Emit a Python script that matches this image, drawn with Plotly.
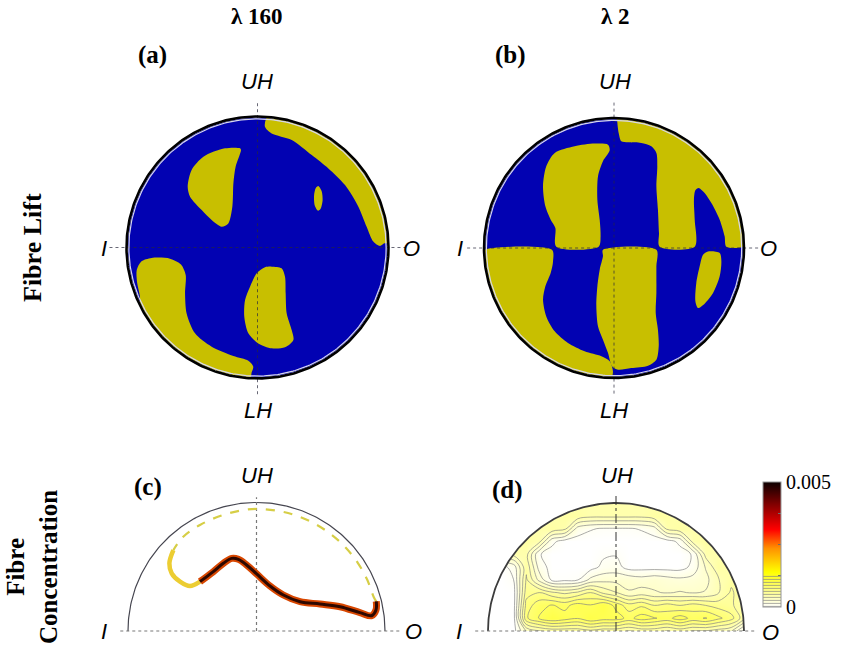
import numpy as np
import plotly.graph_objects as go

W, H = 846, 652

# ---------------- data (unit-circle coordinates: u = I->O, v = LH->UH) ----------------
# (a) lambda 160, fibre lift: yellow regions on blue
a_y1_u = [-0.133, -0.248, -0.413, -0.503, -0.533, -0.515, -0.426, -0.350, -0.274, -0.223, -0.192, -0.184, -0.167, -0.126]
a_y1_v = [0.757, 0.757, 0.693, 0.592, 0.464, 0.388, 0.286, 0.210, 0.159, 0.184, 0.312, 0.490, 0.617, 0.744]
a_y2_u = [0.057, 0.108, 0.261, 0.414, 0.541, 0.668, 0.770, 0.833, 0.884, 0.935, 0.968]
a_y2_v = [0.922, 0.871, 0.821, 0.706, 0.604, 0.477, 0.312, 0.159, 0.045, 0.011, 0.032]
a_y2_arc = [2, 86]
a_y3_u = [0.464, 0.490, 0.497, 0.482, 0.462, 0.437, 0.432, 0.445]
a_y3_v = [0.470, 0.430, 0.360, 0.295, 0.280, 0.320, 0.400, 0.455]
a_y4_u = [-0.897, -0.920, -0.922, -0.889, -0.808, -0.668, -0.584, -0.548, -0.553, -0.541, -0.477, -0.350, -0.184, -0.070, -0.032, -0.045]
a_y4_v = [-0.375, -0.261, -0.172, -0.108, -0.080, -0.085, -0.129, -0.210, -0.350, -0.503, -0.655, -0.757, -0.828, -0.864, -0.910, -0.955]
a_y4_arc = [-93, -155]
a_y5_u = [0.108, 0.184, 0.210, 0.215, 0.223, 0.261, 0.274, 0.210, 0.108, 0.006, -0.070, -0.101, -0.095, -0.057, -0.006, 0.057]
a_y5_v = [-0.146, -0.159, -0.223, -0.350, -0.503, -0.630, -0.706, -0.762, -0.770, -0.732, -0.655, -0.528, -0.401, -0.299, -0.197, -0.151]

# (b) lambda 2, fibre lift
b_y1_u = [-0.456, -0.303, -0.149, -0.046, -0.033, -0.085, -0.123, -0.128, -0.110, -0.103, -0.118, -0.444, -0.451, -0.487, -0.528, -0.546, -0.521]
b_y1_v = [0.731, 0.782, 0.803, 0.795, 0.751, 0.667, 0.551, 0.372, 0.218, 0.090, 0.010, 0.010, 0.154, 0.218, 0.321, 0.474, 0.628]
b_y2_u = [0.864, 0.851, 0.813, 0.749, 0.697, 0.651, 0.626, 0.615, 0.621, 0.621, 0.351, 0.346, 0.338, 0.326, 0.333, 0.326, 0.287, 0.210, 0.108, 0.056, 0.036, 0.026]
b_y2_v = [0.010, 0.090, 0.218, 0.346, 0.423, 0.462, 0.444, 0.372, 0.218, 0.010, 0.010, 0.115, 0.295, 0.474, 0.628, 0.731, 0.782, 0.808, 0.813, 0.821, 0.885, 0.962]
b_y2_arc = [88.5, 0.6]
b_y3_u = [-0.008, -0.033, -0.097, -0.226, -0.354, -0.456, -0.521, -0.546, -0.528, -0.487, -0.469, -0.477]
b_y3_v = [-0.949, -0.872, -0.833, -0.795, -0.731, -0.641, -0.526, -0.397, -0.295, -0.192, -0.103, -0.014]
b_y3_arc = [180.8, 269]
b_y4_u = [-0.085, 0.326, 0.326, 0.326, 0.321, 0.338, 0.344, 0.326, 0.262, 0.133, 0.031, -0.015, -0.046, -0.085, -0.123, -0.136, -0.128, -0.110, -0.085]
b_y4_v = [-0.014, -0.014, -0.141, -0.346, -0.500, -0.628, -0.756, -0.859, -0.905, -0.923, -0.936, -0.910, -0.808, -0.705, -0.603, -0.449, -0.295, -0.167, -0.064]
b_y5_u = [0.723, 0.813, 0.826, 0.813, 0.762, 0.697, 0.646, 0.626, 0.633, 0.659, 0.685]
b_y5_v = [-0.026, -0.038, -0.103, -0.218, -0.346, -0.428, -0.462, -0.410, -0.269, -0.141, -0.051]

# (c) lambda 160, fibre concentration: closed fibre path
c_core_u = [-0.440, -0.336, -0.258, -0.193, -0.141, -0.077, 0.001, 0.105, 0.209, 0.339, 0.494, 0.650, 0.805, 0.896, 0.930, 0.932]
c_core_v = [0.384, 0.462, 0.527, 0.565, 0.558, 0.514, 0.444, 0.350, 0.280, 0.228, 0.210, 0.189, 0.143, 0.119, 0.163, 0.230]
c_hook_u = [-0.647, -0.678, -0.660, -0.595, -0.518, -0.440]
c_hook_v = [0.630, 0.527, 0.449, 0.384, 0.350, 0.384]
c_dash_u = [0.932, 0.913, 0.861, 0.788, 0.695, 0.585, 0.446, 0.294, 0.163, 0.0, -0.128, -0.284, -0.440, -0.570, -0.647]
c_dash_v = [0.230, 0.262, 0.401, 0.531, 0.648, 0.749, 0.839, 0.904, 0.935, 0.950, 0.937, 0.895, 0.825, 0.734, 0.630]

# (d) lambda 2, fibre concentration field (units of 1e-5), rows v = 0.0..1.0, cols u = -1.0..1.0
d_u = [round(-1.0 + 0.1 * i, 1) for i in range(21)]
d_v = [round(0.1 * j, 1) for j in range(11)]
d_conc_e5 = [
    [0, 0, 0, 30, 40, 45, 45, 45, 50, 45, 45, 40, 45, 45, 40, 45, 40, 40, 35, 30, 0],
    [0, 0, 0, 75, 90, 100, 95, 90, 100, 95, 95, 85, 95, 90, 85, 95, 85, 90, 80, 70, 45],
    [0, 0, 0, 70, 85, 90, 85, 95, 90, 100, 85, 70, 75, 65, 70, 65, 70, 65, 60, 55, 45],
    [0, 0, 0, 60, 65, 55, 50, 55, 65, 50, 42, 30, 34, 30, 28, 30, 28, 30, 40, 55, 45],
    [0, 0, 5, 55, 25, 2, 2, 4, 20, 25, 25, 25, 22, 25, 22, 20, 22, 25, 40, 50, 45],
    [0, 0, 10, 50, 12, 0, 0, 0, 0, 8, 10, 0, 0, 0, 0, 0, 8, 30, 50, 45, 45],
    [45, 45, 45, 45, 6, 0, 0, 0, 0, 3, 4, 0, 0, 0, 0, 0, 6, 45, 45, 45, 45],
    [45, 45, 45, 50, 45, 8, 0, 0, 0, 0, 0, 0, 0, 0, 0, 8, 45, 50, 45, 45, 45],
    [45, 45, 45, 45, 45, 50, 45, 12, 6, 4, 4, 4, 6, 12, 45, 50, 45, 45, 45, 45, 45],
    [45, 45, 45, 45, 45, 45, 50, 50, 45, 45, 45, 45, 45, 50, 50, 45, 45, 45, 45, 45, 45],
    [45] * 21,
]
cbar_min, cbar_max = 0.0, 0.005
cbar_labels = ["0", "", "", "", "0.005"]

titles = ["λ 160", "λ 2"]
panel_tags = ["(a)", "(b)", "(c)", "(d)"]
row_labels = ["Fibre Lift", "Fibre<br>Concentration"]

# ---------------- styling / layout ----------------
BLUE = "rgb(2,2,178)"
YEL = "rgb(200,191,0)"

# panel geometry in pixels: centre x, centre y, radius, x-range, y-range
P = {
    "a": dict(cx=257.5, cy=247.5, r=131, xr=[-1.3, 1.3], yr=[-1.3, 1.3], ax=("x", "y")),
    "b": dict(cx=614, cy=248, r=130, xr=[-1.3, 1.3], yr=[-1.3, 1.3], ax=("x2", "y2")),
    "c": dict(cx=256.5, cy=631, r=128.5, xr=[-1.25, 1.25], yr=[-0.1, 1.3], ax=("x3", "y3")),
    "d": dict(cx=616, cy=631, r=128, xr=[-1.25, 1.25], yr=[-0.1, 1.3], ax=("x4", "y4")),
}


def arc(rad, a0, a1, n=120):
    t = np.radians(np.linspace(a0, a1, n))
    return list(rad * np.cos(t)), list(rad * np.sin(t))


def region(u, v, arc_deg=None, rad=0.99):
    u = list(u)
    v = list(v)
    if arc_deg is not None:
        au, av = arc(rad, arc_deg[0], arc_deg[1], 60)
        u += au
        v += av
    u.append(u[0])
    v.append(v[0])
    return u, v


fig = go.Figure()


def add(p, **kw):
    xa, ya = P[p]["ax"]
    kw.setdefault("hoverinfo", "skip")
    kw.setdefault("showlegend", False)
    fig.add_trace(go.Scatter(xaxis=xa, yaxis=ya, **kw))


def disk_panel(p, blobs):
    cu, cv = arc(0.99, 0, 360, 361)
    add(p, x=cu, y=cv, mode="lines", fill="toself", fillcolor=BLUE, line=dict(width=0))
    for (u, v, a) in blobs:
        bu, bv = region(u, v, a)
        add(p, x=bu, y=bv, mode="lines", fill="toself", fillcolor=YEL,
            line=dict(width=0, shape="spline", smoothing=0.8))
    # axes lines
    add(p, x=[-1.13, 1.13], y=[0, 0], mode="lines", line=dict(color="rgba(40,40,60,0.7)", width=1, dash="dot"))
    add(p, x=[0, 0], y=[-1.12, 1.12], mode="lines", line=dict(color="rgba(40,40,60,0.7)", width=1, dash="dot"))
    ru, rv = arc(0.982, 0, 360, 361)
    add(p, x=ru, y=rv, mode="lines", line=dict(color="rgb(215,215,235)", width=1.2))
    ou, ov = arc(1.0, 0, 360, 361)
    add(p, x=ou, y=ov, mode="lines", line=dict(color="black", width=2.6))


disk_panel("a", [(a_y1_u, a_y1_v, None), (a_y2_u, a_y2_v, a_y2_arc), (a_y3_u, a_y3_v, None),
                 (a_y4_u, a_y4_v, a_y4_arc), (a_y5_u, a_y5_v, None)])
disk_panel("b", [(b_y1_u, b_y1_v, None), (b_y2_u, b_y2_v, b_y2_arc), (b_y3_u, b_y3_v, b_y3_arc),
                 (b_y4_u, b_y4_v, None), (b_y5_u, b_y5_v, None)])

# ---- panel (c)
hu, hv = arc(1.0, 0, 180, 181)
add("c", x=hu, y=hv, mode="lines", line=dict(color="rgb(70,70,80)", width=1.2))
add("c", x=[-1.06, 1.12], y=[0, 0], mode="lines", line=dict(color="rgb(120,120,120)", width=1.2, dash="dot"))
add("c", x=[0, 0], y=[0, 1.04], mode="lines", line=dict(color="rgb(120,120,120)", width=1.2, dash="dot"))
add("c", x=c_dash_u, y=c_dash_v, mode="lines", line=dict(color="rgb(214,206,70)", width=2.2, dash="dash", shape="spline"))
add("c", x=c_hook_u, y=c_hook_v, mode="lines", line=dict(color="rgb(236,205,50)", width=4.5, shape="spline"))
add("c", x=c_core_u, y=c_core_v, mode="lines", line=dict(color="rgb(215,70,0)", width=7, shape="spline"))
add("c", x=c_core_u, y=c_core_v, mode="lines", line=dict(color="rgb(45,8,0)", width=3, shape="spline"))

# ---- panel (d)
cscale = [[0.0, "rgb(255,255,255)"], [0.28, "rgb(255,255,0)"], [0.47, "rgb(255,145,0)"],
          [0.62, "rgb(255,0,0)"], [0.82, "rgb(130,0,0)"], [1.0, "rgb(12,0,0)"]]
z = np.array(d_conc_e5, dtype=float) * 1e-5
fig.add_trace(go.Contour(
    x=d_u, y=d_v, z=z, xaxis="x4", yaxis="y4", colorscale=cscale, zmin=cbar_min, zmax=cbar_max,
    autocontour=False,
    contours=dict(coloring="heatmap", start=0.00005, end=0.00125, size=0.00012, showlines=True),
    line=dict(color="rgba(130,130,130,0.85)", width=0.8, smoothing=1.0),
    hoverinfo="skip", showscale=True,
    colorbar=dict(x=762.7 / W, xanchor="left", y=1 - 607 / H, yanchor="bottom",
                  len=125 / H, lenmode="fraction", thickness=18, thicknessmode="pixels",
                  xpad=0, ypad=0, outlinewidth=1, outlinecolor="rgb(150,150,150)",
                  tickvals=list(np.linspace(cbar_min, cbar_max, 5)), ticktext=cbar_labels,
                  ticks="inside", ticklen=3, tickcolor="rgb(110,110,110)",
                  tickfont=dict(family="Liberation Serif", size=20, color="black")),
))
mu, mv = arc(0.995, 0, 180, 181)
mask_u = [-1.3, -1.3, 1.3, 1.3] + mu + [-1.3]
mask_v = [0, 1.35, 1.35, 0] + mv + [0]
add("d", x=mask_u, y=mask_v, mode="lines", fill="toself", fillcolor="white", line=dict(width=0))
add("d", x=hu, y=hv, mode="lines", line=dict(color="rgb(60,60,60)", width=1.8))
add("d", x=[-1.1, 1.1], y=[0, 0], mode="lines", line=dict(color="rgb(120,120,120)", width=1.2, dash="dot"))
add("d", x=[0, 0], y=[0, 1.07], mode="lines", line=dict(color="rgb(50,50,50)", width=1, dash="dashdot"))

# ---------------- axes ----------------
lay = {}
for key, g in P.items():
    xa, ya = g["ax"]
    x0 = g["cx"] + g["xr"][0] * g["r"]
    x1 = g["cx"] + g["xr"][1] * g["r"]
    ytop = g["cy"] - g["yr"][1] * g["r"]
    ybot = g["cy"] - g["yr"][0] * g["r"]
    xname = "xaxis" + xa[1:]
    yname = "yaxis" + ya[1:]
    lay[xname] = dict(domain=[x0 / W, x1 / W], range=g["xr"], visible=False, fixedrange=True, anchor=ya)
    lay[yname] = dict(domain=[1 - ybot / H, 1 - ytop / H], range=g["yr"], visible=False, fixedrange=True, anchor=xa)


def txt(s, px, py, size, family="Liberation Serif", angle=0):
    return dict(text=s, x=px / W, y=1 - py / H, xref="paper", yref="paper", showarrow=False,
                xanchor="center", yanchor="middle", textangle=angle,
                font=dict(family=family, size=size, color="black"))


SANS = "Liberation Sans"
ann = [
    txt("<b>%s</b>" % titles[0], 257, 17, 23),
    txt("<b>%s</b>" % titles[1], 615, 17, 23),
    txt("<b>%s</b>" % panel_tags[0], 152, 55, 25),
    txt("<b>%s</b>" % panel_tags[1], 510, 55, 25),
    txt("<b>%s</b>" % panel_tags[2], 148, 487, 25),
    txt("<b>%s</b>" % panel_tags[3], 507, 490, 25),
    txt("<b>%s</b>" % row_labels[0], 32, 248, 26, angle=-90),
    txt("<b>%s</b>" % row_labels[1], 32, 567, 25, angle=-90),
]
for (cx, cy) in [(257, 82), (615, 82)]:
    ann.append(txt("<i>UH</i>", cx, cy, 22, SANS))
for (cx, cy) in [(258, 410), (614, 410)]:
    ann.append(txt("<i>LH</i>", cx, cy, 22, SANS))
for (px, py) in [(104, 248), (460, 248), (104, 631), (459, 631)]:
    ann.append(txt("<i>I</i>", px, py, 22, SANS))
for (px, py) in [(411, 248), (768, 248), (413, 631), (770, 632)]:
    ann.append(txt("<i>O</i>", px, py, 22, SANS))
for (cx, cy) in [(257, 475), (617, 475)]:
    ann.append(txt("<i>UH</i>", cx, cy, 22, SANS))

fig.update_layout(width=W, height=H, margin=dict(l=0, r=0, t=0, b=0), paper_bgcolor="white",
                  plot_bgcolor="white", showlegend=False, annotations=ann, **lay)
fig.write_html("out.html", config={"displayModeBar": False},
               post_script="document.body.style.margin='0';document.body.style.overflow='hidden';")
